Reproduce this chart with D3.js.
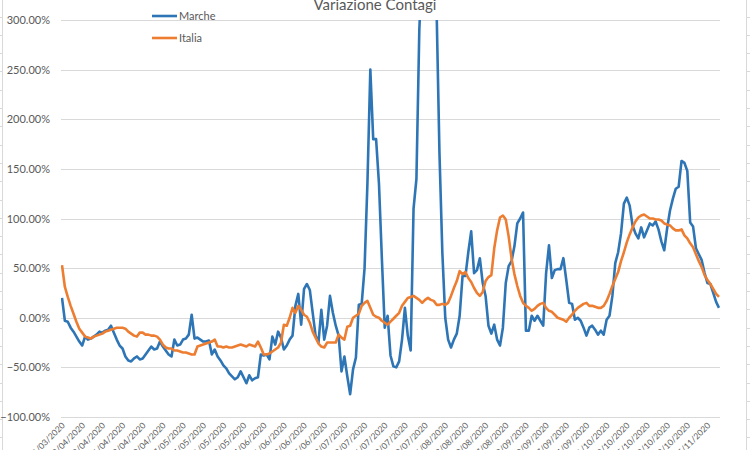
<!DOCTYPE html>
<html><head><meta charset="utf-8">
<script src="https://cdn.jsdelivr.net/npm/d3@7"></script>
<style>
body{margin:0;background:#fff}
svg{display:block}
text{font-family:Lato,"Liberation Sans",sans-serif}
</style>
</head><body><svg id="c" width="750" height="450"></svg>
<script>
const title = "Variazione Contagi";
const seriesNames = ["Marche", "Italia"];
const startDate = "26/03/2020";
const endDate = "09/11/2020";
const tickLabels = ["26/03/2020","02/04/2020","09/04/2020","16/04/2020","23/04/2020","30/04/2020","07/05/2020","14/05/2020","21/05/2020","28/05/2020","04/06/2020","11/06/2020","18/06/2020","25/06/2020","02/07/2020","09/07/2020","16/07/2020","23/07/2020","30/07/2020","06/08/2020","13/08/2020","20/08/2020","27/08/2020","03/09/2020","10/09/2020","17/09/2020","24/09/2020","01/10/2020","08/10/2020","15/10/2020","22/10/2020","29/10/2020","05/11/2020"];
const yTicks = [-100, -50, 0, 50, 100, 150, 200, 250, 300];

const marche = [20,-3,-4,-10,-14,-19,-24,-28,-19,-22,-21,-19,-17,-14,-15,-13,-12,-8,-15,-22,
-28,-31,-39,-43,-44,-41,-39,-42,-41,-37,-33,-29,-32,-31,-24,-29,-33,-37,-39,-22,
-28,-27,-22,-21,-17,3,-21,-20,-22,-24,-24,-23,-37,-32,-39,-43,-48,-51,-56,-59,
-62,-60,-54,-60,-66,-58,-63,-61,-60,-37,-38,-37,-42,-19,-27,-14,-20,-32,-28,-22,
-18,12,24,-7,29,34,28,5,-18,-25,8,-22,-8,22,5,-8,-18,-54,-39,-59,
-77,-52,-40,13,14,50,136,250,180,180,135,60,-10,2,-38,-49,-50,-44,-22,10,
-18,-33,110,140,290,360,420,400,380,340,310,165,65,0,-22,-30,-22,-16,2,42,
42,66,87,45,48,60,35,22,-8,-16,-7,-22,-28,-10,35,52,57,72,95,100,
106,-13,-13,2,-3,2,-3,-8,45,73,40,48,49,49,60,38,15,14,-2,0,
-3,-10,-18,-10,-8,-12,-17,-13,-17,-2,2,22,55,66,85,115,121,113,93,85,
80,91,81,88,95,93,97,89,77,68,90,108,120,130,132,158,156,148,96,92,
70,64,58,45,35,34,25,16,10];

const italia = [53,31,21,12,4,-4,-11,-15,-19,-20,-21,-19,-18,-17,-16,-14,-13,-12,-11,-10,
-10,-10,-11,-14,-16,-18,-19,-15,-15,-17,-17,-18,-18,-19,-22,-27,-30,-31,-31,-33,
-33,-34,-35,-35,-36,-37,-37,-29,-28,-27,-26,-25,-24,-22,-29,-29,-30,-29,-30,-30,
-29,-28,-27,-28,-29,-27,-28,-29,-24,-30,-37,-37,-36,-34,-32,-30,-25,-7,-8,0,
10,5,12,8,3,1,-5,-14,-20,-26,-29,-30,-25,-25,-25,-25,-17,-20,-22,-9,
-8,0,2,4,12,15,17,10,3,1,0,-3,-5,-7,-4,-1,2,5,12,16,
20,21,22,20,18,15,18,20,18,17,13,13,14,13,15,22,30,37,47,44,
46,40,36,30,25,22,26,37,41,43,70,88,101,103,99,82,60,44,32,22,
15,12,10,7,9,12,14,15,10,7,6,3,0,-1,-2,-4,0,3,7,10,
12,14,15,12,12,11,10,10,12,17,24,32,39,46,57,66,76,84,91,97,
101,103,104,102,100,100,99,99,98,95,94,93,90,88,88,89,83,80,75,71,
64,57,51,43,38,34,29,24,21];

const colors = {Marche: "#2E75B6", Italia: "#ED7D31"};

const parse = d3.timeParse("%d/%m/%Y");
const fmt = d3.timeFormat("%d/%m/%Y");
const dates = d3.timeDay.range(parse(startDate), d3.timeDay.offset(parse(endDate), 1)).map(fmt);

const svg = d3.select("#c");

// spreadsheet edges
const edge = svg.append("g").attr("stroke", "#d9d9d9");
edge.append("line").attr("x1", 2.5).attr("x2", 2.5).attr("y1", 0).attr("y2", 450);
edge.append("line").attr("x1", 746.5).attr("x2", 746.5).attr("y1", 0).attr("y2", 450);
d3.range(16.5, 450, 18.3).forEach(v => {
  const yy = Math.round(v) + 0.5;
  edge.append("line").attr("x1", 0).attr("x2", 2.5).attr("y1", yy).attr("y2", yy);
  edge.append("line").attr("x1", 746.5).attr("x2", 750).attr("y1", yy).attr("y2", yy);
});

const pLeft = 61, pRight = 720, pTop = 20, pBottom = 417;
const x = d3.scalePoint().domain(dates).range([62, 719]);
const y = d3.scaleLinear().domain([-100, 300]).range([pBottom, pTop]);

// gridlines
svg.append("g").selectAll("line").data(yTicks).join("line")
  .attr("x1", pLeft).attr("x2", pRight)
  .attr("y1", d => Math.round(y(d)) + 0.5).attr("y2", d => Math.round(y(d)) + 0.5)
  .attr("stroke", "#d9d9d9").attr("stroke-width", 1);

// y axis labels
const yAxis = d3.axisLeft(y).tickValues(yTicks).tickSize(0).tickPadding(0)
  .tickFormat(d => d3.format(".2f")(d) + "%");
svg.append("g").attr("transform", "translate(50,0)").call(yAxis)
  .call(g => g.select(".domain").remove())
  .selectAll("text").attr("fill", "#595959").attr("font-size", 11);

// x axis labels
const xAxis = d3.axisBottom(x).tickValues(tickLabels).tickSize(0).tickPadding(0);
svg.append("g").attr("transform", `translate(0,${pBottom})`).call(xAxis)
  .call(g => g.select(".domain").remove())
  .selectAll("text")
  .attr("fill", "#595959").attr("font-size", 8.5)
  .attr("text-anchor", "end").attr("dy", 0).attr("y", 0)
  .attr("transform", "translate(3,9) rotate(-45)");

// clip
svg.append("clipPath").attr("id", "clip").append("rect")
  .attr("x", pLeft).attr("y", pTop).attr("width", pRight - pLeft).attr("height", pBottom - pTop);

const line = d3.line().x((d, i) => x(dates[i])).y(d => y(d));
const plot = svg.append("g").attr("clip-path", "url(#clip)");
plot.append("path").datum(marche).attr("d", line).attr("fill", "none")
  .attr("stroke", colors.Marche).attr("stroke-width", 2.6).attr("stroke-linejoin", "round");
plot.append("path").datum(italia).attr("d", line).attr("fill", "none")
  .attr("stroke", colors.Italia).attr("stroke-width", 2.6).attr("stroke-linejoin", "round");

// title
svg.append("text").attr("x", 375).attr("y", 10).attr("text-anchor", "middle")
  .attr("fill", "#595959").attr("font-size", 15).text(title);

// legend
const leg = svg.append("g");
seriesNames.forEach((n, i) => {
  const ly = 16 + i * 22;
  leg.append("line").attr("x1", 152).attr("x2", 177).attr("y1", ly).attr("y2", ly)
    .attr("stroke", colors[n]).attr("stroke-width", 2.6);
  leg.append("text").attr("x", 179).attr("y", ly + 4).attr("fill", "#595959")
    .attr("font-size", 11).text(n);
});
</script>
</body></html>
